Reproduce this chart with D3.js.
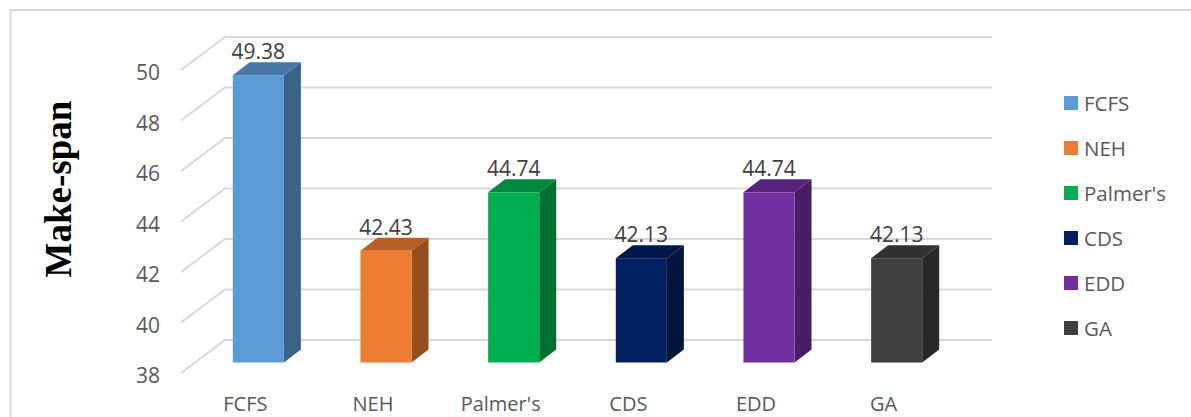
<!DOCTYPE html>
<html>
<head>
<meta charset="utf-8">
<script src="https://cdn.jsdelivr.net/npm/d3@7/dist/d3.min.js"></script>
<style>
html,body{margin:0;padding:0;background:#fff;}
svg{display:block;}
text{font-family:"Open Sans",sans-serif;}
</style>
</head>
<body>
<svg id="chart" width="1191" height="417"></svg>
<script>
// Make-span per scheduling method
const categories = ["FCFS", "NEH", "Palmer's", "CDS", "EDD", "GA"];
const values = [49.38, 42.43, 44.74, 42.13, 44.74, 42.13];
const colors = ["#5B9BD5", "#ED7D31", "#00B050", "#002060", "#7030A0", "#3F3F3F"];
const yTicks = [38, 40, 42, 44, 46, 48, 50];

const svg = d3.select("#chart");

// Chart frame: only the top and left edges fall inside the page
svg.append("path").attr("d", "M10.5,417V10H1191")
  .attr("fill", "none").attr("stroke", "#d9d9d9").attr("stroke-width", 2);

// Scale for the front plane of the bars
const yBar = d3.scaleLinear().domain([38, 50]).range([362.5, 59.5]);
// Scale for the front edge of the 3D floor and for the back wall
const yFront = d3.scaleLinear().domain([38, 50]).range([373, 70]);
const yBack = d3.scaleLinear().domain([38, 50]).range([340, 37]);
const x = d3.scaleBand().domain(categories).range([194.5, 960.5]).paddingInner(0.6).paddingOuter(0.3);

const wallLeft = 225, wallRight = 992, frontLeft = 181;
const depthX = 17, depthY = 13;

// Grid: slanted side wall plus horizontal back wall
const grid = svg.append("g").attr("fill", "none").attr("stroke", "#d9d9d9").attr("stroke-width", 2);
grid.selectAll("path").data(yTicks).join("path")
  .attr("d", d => `M${frontLeft},${yFront(d)}L${wallLeft},${yBack(d)}H${wallRight}`);

// Value axis
const yAxis = svg.append("g")
  .attr("transform", "translate(160,3)")
  .call(d3.axisLeft(yFront).tickValues(yTicks).tickSize(0).tickPadding(0));
yAxis.select(".domain").remove();
yAxis.selectAll("text").attr("font-size", 21).attr("fill", "#595959")
  .style("font-family", '"Open Sans",sans-serif').attr("dy", "0.32em");

// Category axis
const xAxis = svg.append("g")
  .attr("transform", "translate(-13,396)")
  .call(d3.axisBottom(x).tickSize(0).tickPadding(0));
xAxis.select(".domain").remove();
xAxis.selectAll("text").attr("font-size", 20).attr("fill", "#595959")
  .style("font-family", '"Open Sans",sans-serif').attr("dy", "0.75em");

// 3D columns: front, top and side faces
const bars = svg.append("g").selectAll("g").data(categories).join("g");
const shade = (c, k) => { const r = d3.rgb(c); return d3.rgb(r.r * k, r.g * k, r.b * k).formatHex(); };
bars.append("path").attr("fill", (d, i) => shade(colors[i], 0.63))
  .attr("d", (d, i) => {
    const r = x(d) + x.bandwidth(), t = yBar(values[i]), b = yBar(38);
    return `M${r},${t}l${depthX},${-depthY}V${b - depthY}L${r},${b}Z`;
  });
bars.append("path").attr("fill", (d, i) => shade(colors[i], 0.77))
  .attr("d", (d, i) => {
    const l = x(d), r = l + x.bandwidth(), t = yBar(values[i]);
    return `M${l},${t}l${depthX},${-depthY}H${r + depthX}L${r},${t}Z`;
  });
bars.append("rect").attr("fill", (d, i) => colors[i])
  .attr("x", d => x(d)).attr("width", x.bandwidth())
  .attr("y", (d, i) => yBar(values[i]))
  .attr("height", (d, i) => yBar(38) - yBar(values[i]));

// Value labels above each column
svg.append("g").selectAll("text").data(categories).join("text")
  .attr("x", d => x(d) + x.bandwidth() / 2)
  .attr("y", (d, i) => yBar(values[i]) - 16)
  .attr("text-anchor", "middle").attr("font-size", 21).attr("fill", "#404040")
  .text((d, i) => values[i].toFixed(2));

// Legend
const legend = svg.append("g").selectAll("g").data(categories).join("g")
  .attr("transform", (d, i) => `translate(1064,${96 + i * 45})`);
legend.append("rect").attr("width", 14).attr("height", 14).attr("fill", (d, i) => colors[i]);
legend.append("text").attr("x", 20).attr("y", 15).attr("font-size", 20.5).attr("fill", "#595959").text(d => d);

// Axis title
svg.append("text")
  .attr("transform", "translate(71,189) rotate(-90)")
  .attr("text-anchor", "middle").attr("font-size", 37).attr("font-weight", 700)
  .style("font-family", '"Liberation Serif",serif').attr("fill", "#000")
  .text("Make-span");
</script>
</body>
</html>
